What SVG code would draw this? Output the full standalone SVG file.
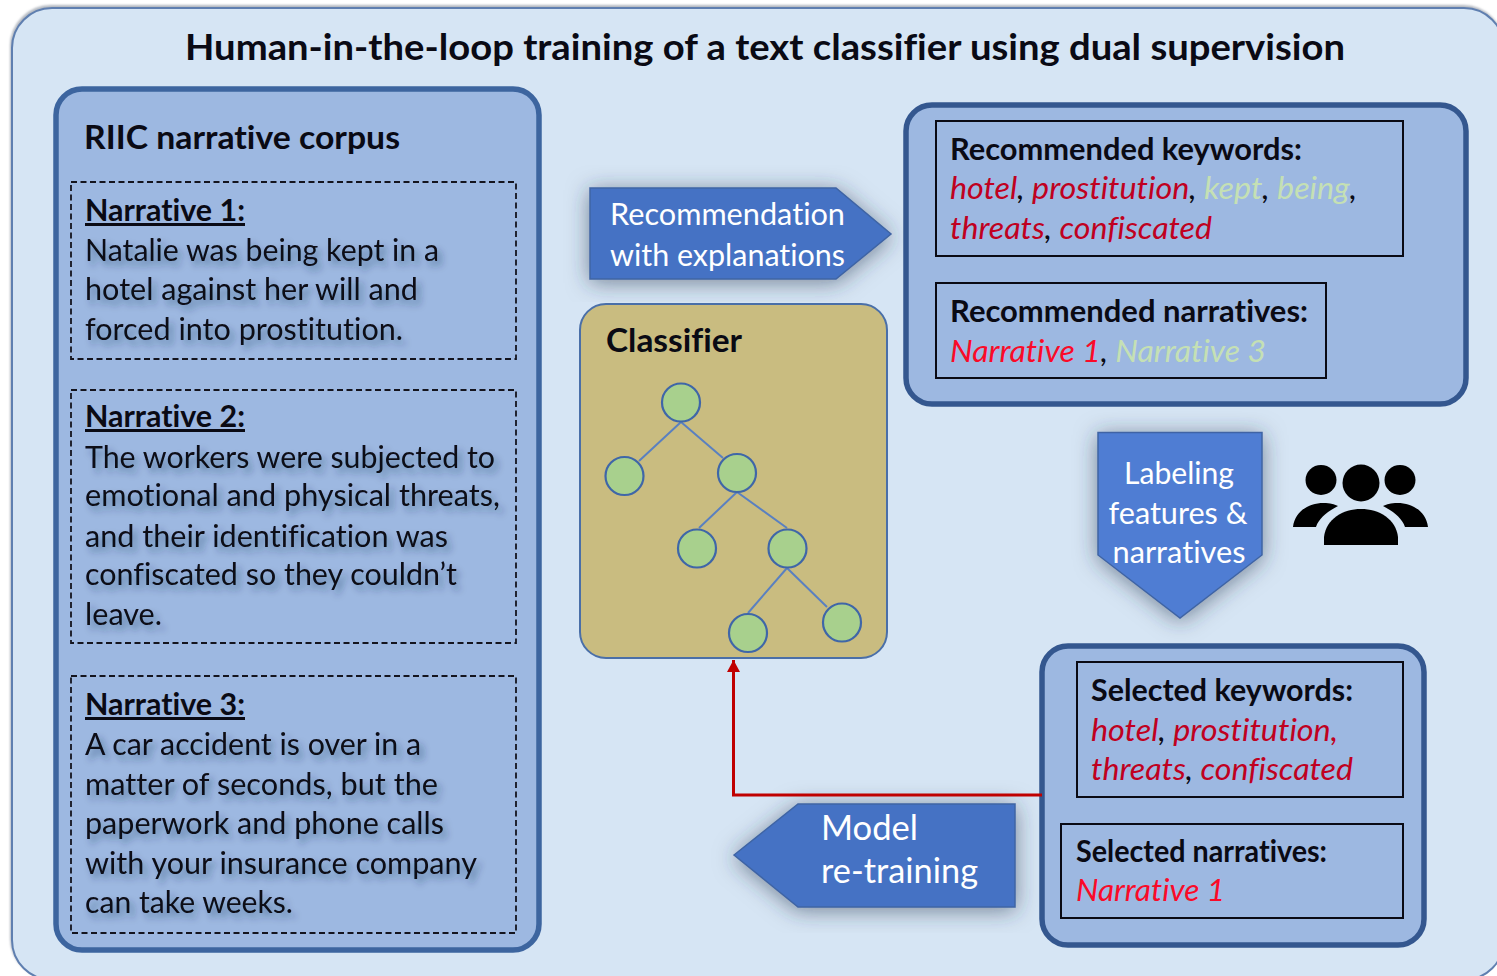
<svg xmlns="http://www.w3.org/2000/svg" width="1497" height="976" viewBox="0 0 1497 976">
<style>
text{font-family:Lato,"Open Sans","Liberation Sans",sans-serif;fill:#0a0a14;font-variant-ligatures:none}
.b{font-weight:700}
.t{font-size:30px}
.it{font-style:italic;font-size:30px}
.r{fill:#c00020}.rr{fill:#fa0a28}.g{fill:#c5e0b4}.k{fill:#0a0a14}
.w{fill:#fff}
.panel{fill:#9db8e1;stroke:#34578f;stroke-width:5.5}
.dash{fill:none;stroke:#14141e;stroke-width:1.8;stroke-dasharray:6 3.5}
.box{fill:none;stroke:#0a0a14;stroke-width:2}
.arrow{fill:#4472c4;stroke:#3f64a4;stroke-width:1.5}
.edge{stroke:#5a80c0;stroke-width:2;fill:none}
.leaf{fill:#a8d08d;stroke:#3f66a8;stroke-width:2.200}
.sh{filter:url(#ts)}
</style>
<defs>
<filter id="ts" x="-10%" y="-30%" width="120%" height="170%"><feDropShadow dx="4" dy="5" stdDeviation="3.5" flood-color="#1c2c50" flood-opacity=".45"/></filter>
<filter id="bs" x="-25%" y="-25%" width="150%" height="150%"><feDropShadow dx="0" dy="3" stdDeviation="11" flood-color="#26344e" flood-opacity=".55"/></filter>
<filter id="edge" x="-2%" y="-2%" width="104%" height="104%"><feDropShadow dx="-1" dy="-2" stdDeviation="1" flood-color="#808894" flood-opacity=".6"/></filter>
<marker id="ah" markerUnits="userSpaceOnUse" markerWidth="13" markerHeight="13" refX="12" refY="6.5" orient="auto"><path d="M0 0L12 6.5L0 13Z" fill="#c00000"/></marker>
</defs>
<rect width="1497" height="976" fill="#fff"/>
<g id="background"><rect x="12" y="8" width="1492" height="972" rx="40" fill="#d6e5f4" stroke="#5f7fb0" stroke-width="2" filter="url(#edge)"/>
<text class="b" x="185" y="60" font-size="36" textLength="1160" lengthAdjust="spacingAndGlyphs">Human-in-the-loop training of a text classifier using dual supervision</text></g>

<g id="corpus">
<rect class="panel" style="stroke:#3d659f" x="56" y="89" width="483" height="861" rx="26"/>
<text class="b" x="84" y="149" font-size="32" textLength="316" lengthAdjust="spacingAndGlyphs">RIIC narrative corpus</text>
</g>
<g id="narrative-1">
<rect class="dash" x="71" y="182" width="445" height="177"/>
<text class="b t" x="85" y="221" text-decoration="underline" textLength="160" lengthAdjust="spacingAndGlyphs">Narrative 1:</text>
<g class="sh t"><text x="85" y="261" textLength="354" lengthAdjust="spacingAndGlyphs">Natalie was being kept in a</text>
<text x="85" y="300" textLength="333" lengthAdjust="spacingAndGlyphs">hotel against her will and</text>
<text x="85" y="340" textLength="318" lengthAdjust="spacingAndGlyphs">forced into prostitution.</text></g>
</g>
<g id="narrative-2">
<rect class="dash" x="71" y="390" width="445" height="253"/>
<text class="b t" x="85" y="427" text-decoration="underline" textLength="160" lengthAdjust="spacingAndGlyphs">Narrative 2:</text>
<g class="sh t"><text x="85" y="468" textLength="410" lengthAdjust="spacingAndGlyphs">The workers were subjected to</text>
<text x="85" y="506" textLength="415" lengthAdjust="spacingAndGlyphs">emotional and physical threats,</text>
<text x="85" y="547" textLength="363" lengthAdjust="spacingAndGlyphs">and their identification was</text>
<text x="85" y="585" textLength="372" lengthAdjust="spacingAndGlyphs">confiscated so they couldn’t</text>
<text x="85" y="625" textLength="77" lengthAdjust="spacingAndGlyphs">leave.</text></g>
</g>
<g id="narrative-3">
<rect class="dash" x="71" y="676" width="445" height="257"/>
<text class="b t" x="85" y="715" text-decoration="underline" textLength="160" lengthAdjust="spacingAndGlyphs">Narrative 3:</text>
<g class="sh t"><text x="85" y="755" textLength="336" lengthAdjust="spacingAndGlyphs">A car accident is over in a</text>
<text x="85" y="795" textLength="353" lengthAdjust="spacingAndGlyphs">matter of seconds, but the</text>
<text x="85" y="834" textLength="359" lengthAdjust="spacingAndGlyphs">paperwork and phone calls</text>
<text x="85" y="874" textLength="392" lengthAdjust="spacingAndGlyphs">with your insurance company</text>
<text x="85" y="913" textLength="208" lengthAdjust="spacingAndGlyphs">can take weeks.</text></g>
</g>

<g id="recommendation-arrow">
<polygon class="arrow" style="filter:url(#bs)" points="590,188 836,188 891,234 836,279 590,279"/>
<text class="w t" x="610" y="225" textLength="235" lengthAdjust="spacingAndGlyphs">Recommendation</text>
<text class="w t" x="610" y="266" textLength="235" lengthAdjust="spacingAndGlyphs">with explanations</text>
</g>

<g id="classifier">
<rect x="580" y="304" width="307" height="354" rx="26" fill="#c9bc80" stroke="#4a6fa8" stroke-width="2"/>
<text class="b" x="606" y="352" font-size="32" textLength="136" lengthAdjust="spacingAndGlyphs">Classifier</text>
<path class="edge" d="M681 422L639 461M681 422L723 458M737 492L699 528M737 492L787 528M787 568L748 613M787 568L827 607"/>
<circle class="leaf" cx="681" cy="402.500" r="19"/>
<circle class="leaf" cx="624.500" cy="476" r="19"/>
<circle class="leaf" cx="737" cy="473" r="19"/>
<circle class="leaf" cx="697" cy="548.500" r="19"/>
<circle class="leaf" cx="787.500" cy="548.500" r="19"/>
<circle class="leaf" cx="748" cy="633" r="19"/>
<circle class="leaf" cx="842" cy="622.500" r="19"/>
</g>

<g id="recommended">
<rect class="panel" x="906" y="105" width="560" height="299" rx="26"/>
<rect class="box" x="936" y="121" width="467" height="135"/>
<text class="b t" x="950" y="160" textLength="352" lengthAdjust="spacingAndGlyphs">Recommended keywords:</text>
<text class="it" x="950" y="199" textLength="407" lengthAdjust="spacingAndGlyphs"><tspan class="r">hotel</tspan><tspan class="k">, </tspan><tspan class="r">prostitution</tspan><tspan class="k">, </tspan><tspan class="g">kept</tspan><tspan class="k">, </tspan><tspan class="g">being</tspan><tspan class="k">,</tspan></text>
<text class="it" x="950" y="239" textLength="262" lengthAdjust="spacingAndGlyphs"><tspan class="r">threats</tspan><tspan class="k">, </tspan><tspan class="r">confiscated</tspan></text>
<rect class="box" x="936" y="283" width="390" height="95"/>
<text class="b t" x="950" y="322" textLength="358" lengthAdjust="spacingAndGlyphs">Recommended narratives:</text>
<text class="it" x="950" y="362" textLength="316" lengthAdjust="spacingAndGlyphs"><tspan class="rr">Narrative 1</tspan><tspan class="k">, </tspan><tspan class="g">Narrative 3</tspan></text>
</g>

<g id="labeling-arrow">
<polygon class="arrow" style="fill:#4f7dd3;filter:url(#bs)" points="1098,432.500 1262,432.500 1262,555 1180,618 1098,555"/>
<text class="w t" x="1179" y="484" text-anchor="middle" textLength="110" lengthAdjust="spacingAndGlyphs">Labeling</text>
<text class="w t" x="1178" y="524" text-anchor="middle" textLength="139" lengthAdjust="spacingAndGlyphs">features &amp;</text>
<text class="w t" x="1179" y="563" text-anchor="middle" textLength="133" lengthAdjust="spacingAndGlyphs">narratives</text>
</g>

<g id="people" fill="#000">
<ellipse cx="1321" cy="480" rx="15.500" ry="15"/>
<circle cx="1361" cy="483" r="18.500"/>
<ellipse cx="1400" cy="480" rx="15.500" ry="15"/>
<path d="M1293 527C1295 510 1311 502 1326 503C1332 503.500 1336 505 1338 506C1327 512 1319 518 1316 527Z"/>
<path d="M1428 527C1426 510 1410 502 1395 503C1389 503.500 1385 505 1383 506C1394 512 1402 518 1405 527Z"/>
<path d="M1324 537C1326 519 1343 509 1361 509C1379 509 1396 519 1398 537L1398 545L1324 545Z"/>
</g>

<g id="selected">
<rect class="panel" x="1042" y="646" width="382" height="299" rx="26"/>
<rect class="box" x="1077" y="662" width="326" height="135"/>
<text class="b t" x="1091" y="701" textLength="262" lengthAdjust="spacingAndGlyphs">Selected keywords:</text>
<text class="it" x="1091" y="741" textLength="247" lengthAdjust="spacingAndGlyphs"><tspan class="r">hotel</tspan><tspan class="k">, </tspan><tspan class="r">prostitution,</tspan></text>
<text class="it" x="1091" y="780" textLength="262" lengthAdjust="spacingAndGlyphs"><tspan class="r">threats</tspan><tspan class="k">, </tspan><tspan class="r">confiscated</tspan></text>
<rect class="box" x="1061" y="824" width="342" height="94"/>
<text class="b t" x="1076" y="862" textLength="251" lengthAdjust="spacingAndGlyphs">Selected narratives:</text>
<text class="it rr" x="1076" y="901" textLength="149" lengthAdjust="spacingAndGlyphs">Narrative 1</text>
</g>

<g id="retraining-arrow">
<polygon class="arrow" style="filter:url(#bs)" points="734,855 798,804 1015,804 1015,907 798,907"/>
<text class="w" x="821" y="840" font-size="35" textLength="97" lengthAdjust="spacingAndGlyphs">Model</text>
<text class="w" x="821" y="883" font-size="35" textLength="157" lengthAdjust="spacingAndGlyphs">re-training</text>
</g>

<g id="connectors">
<path d="M1042 795L733.500 795L733.500 660" fill="none" stroke="#c00000" stroke-width="3" marker-end="url(#ah)"/>
</g>
</svg>
